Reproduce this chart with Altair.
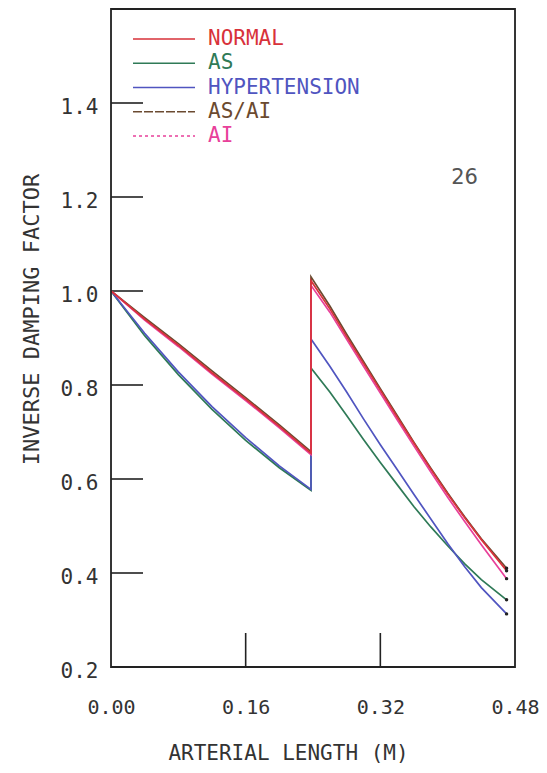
import altair as alt
import pandas as pd

# ---------------- data ----------------
SERIES = ["NORMAL", "AS", "HYPERTENSION", "AS/AI", "AI"]
COLORS = ["#d8323a", "#2f7a57", "#5055c0", "#6b4a30", "#e8409a"]
DASHES = [[1, 0], [1, 0], [1, 0], [9, 2], [3, 3]]
DRAW_ORDER = ["AS", "HYPERTENSION", "AS/AI", "AI", "NORMAL"]

# arterial length (m); the junction appears twice (value before / after the jump)
X_POS = [0.0, 0.04, 0.08, 0.12, 0.16, 0.20, 0.2376,
         0.2376, 0.26, 0.28, 0.30, 0.32, 0.34, 0.36, 0.38, 0.40, 0.42, 0.44, 0.47]

NORMAL = [1.0, 0.94, 0.885, 0.826, 0.77, 0.712, 0.655,
          1.022, 0.962, 0.903, 0.846, 0.789, 0.732, 0.676, 0.621, 0.568, 0.518, 0.471, 0.405]
AS = [1.0, 0.905, 0.822, 0.748, 0.682, 0.624, 0.576,
      0.836, 0.785, 0.735, 0.684, 0.635, 0.588, 0.541, 0.498, 0.458, 0.42, 0.386, 0.343]
HYPERTENSION = [1.0, 0.91, 0.828, 0.754, 0.688, 0.628, 0.578,
                0.898, 0.84, 0.785, 0.728, 0.673, 0.62, 0.567, 0.515, 0.463, 0.414, 0.369, 0.313]
AS_AI = [1.0, 0.943, 0.888, 0.83, 0.773, 0.715, 0.658,
         1.03, 0.968, 0.908, 0.85, 0.792, 0.735, 0.678, 0.623, 0.57, 0.52, 0.473, 0.41]
AI = [1.0, 0.938, 0.882, 0.823, 0.767, 0.709, 0.652,
      1.012, 0.955, 0.897, 0.84, 0.783, 0.726, 0.67, 0.615, 0.561, 0.51, 0.46, 0.388]

VALUES = {"NORMAL": NORMAL, "AS": AS, "HYPERTENSION": HYPERTENSION,
          "AS/AI": AS_AI, "AI": AI}

X_TICKS = [0.0, 0.16, 0.32, 0.48]
Y_TICKS = [0.2, 0.4, 0.6, 0.8, 1.0, 1.2, 1.4]
INNER_X_TICKS = [0.16, 0.32]
INNER_Y_TICKS = [0.4, 0.6, 0.8, 1.0, 1.2, 1.4]
X_DOMAIN = [0.0, 0.48]
Y_DOMAIN = [0.2, 1.6]
PANEL_LABEL = "26"
PANEL_LABEL_AT = (0.42, 1.24)

# ---------------- tables ----------------
rows = []
for s in DRAW_ORDER:
    for i, (x, y) in enumerate(zip(X_POS, VALUES[s])):
        rows.append({"series": s, "x": x, "y": y, "idx": i,
                     "end": i == len(X_POS) - 1})
df = pd.DataFrame(rows)
df_end = df[df["end"]]
df_xt = pd.DataFrame({"x": INNER_X_TICKS})
df_yt = pd.DataFrame({"y": INNER_Y_TICKS})
df_leg = pd.DataFrame({"series": SERIES, "row": list(range(len(SERIES)))})

MONO = "DejaVu Sans Mono"
TXT = "#333333"
INK = "#222222"
W, H = 404, 658

X_ENC = alt.X("x:Q", scale=alt.Scale(domain=X_DOMAIN, nice=False, zero=False),
              axis=alt.Axis(values=X_TICKS, format=".2f", title="ARTERIAL LENGTH (M)",
                            ticks=False, domain=False, grid=False,
                            labelFont=MONO, labelFontSize=20, labelColor=TXT,
                            labelPadding=30, labelFlush=False,
                            titleFont=MONO, titleFontSize=21, titleFontWeight="normal",
                            titleColor=TXT, titleX=177, titleY=75))
Y_ENC = alt.Y("y:Q", scale=alt.Scale(domain=Y_DOMAIN, nice=False, zero=False),
              axis=alt.Axis(values=Y_TICKS, format=".1f", title="INVERSE DAMPING FACTOR",
                            ticks=False, domain=False, grid=False,
                            labelFont=MONO, labelFontSize=21, labelColor=TXT,
                            labelPadding=13, labelOffset=4, labelFlush=False,
                            titleFont=MONO, titleFontSize=22, titleFontWeight="normal",
                            titleColor=TXT, titleX=-68, titleY=310))
COLOR_ENC = alt.Color("series:N", scale=alt.Scale(domain=SERIES, range=COLORS), legend=None)

frame = alt.Chart(pd.DataFrame({"f": [0]})).mark_rect(
    fill=None, fillOpacity=0, stroke=INK, strokeWidth=1.8).encode(
    x=alt.value(0), x2=alt.value(W), y=alt.value(0), y2=alt.value(H))

lines = alt.Chart(df).mark_line(strokeWidth=1.7, clip=True).encode(
    x=X_ENC, y=Y_ENC, color=COLOR_ENC, order="idx:Q")

ends = alt.Chart(df_end).mark_point(filled=True, size=12, color=INK, opacity=1).encode(
    x=X_ENC, y=Y_ENC)

ytick = alt.Chart(df_yt).mark_rule(color=INK, strokeWidth=1.6).encode(
    y=Y_ENC, x=alt.value(0), x2=alt.value(32))

xtick = alt.Chart(df_xt).mark_rule(color=INK, strokeWidth=1.6).encode(
    x=X_ENC, y=alt.value(H), y2=alt.value(H - 34))

label26 = alt.Chart(pd.DataFrame({"t": [PANEL_LABEL]})).mark_text(
    font="DejaVu Sans", fontSize=21, color="#555555").encode(
    x=alt.datum(PANEL_LABEL_AT[0]), y=alt.datum(PANEL_LABEL_AT[1]), text="t:N")

main = alt.layer(ytick, xtick, lines, ends, label26)

LEG_Y = alt.Y("row:Q", scale=alt.Scale(domain=[0, 4], range=[30, 127]), axis=None)
leg_rule = alt.Chart(df_leg).mark_rule(strokeWidth=1.6).encode(
    x=alt.value(22), x2=alt.value(84), y=LEG_Y, color=COLOR_ENC,
    strokeDash=alt.StrokeDash("series:N", scale=alt.Scale(domain=SERIES, range=DASHES),
                              legend=None))
leg_text = alt.Chart(df_leg).mark_text(align="left", baseline="middle", font=MONO,
                                       fontSize=21).encode(
    x=alt.value(97), y=LEG_Y, text="series:N", color=COLOR_ENC)

chart = alt.layer(main, leg_rule, leg_text, frame).resolve_scale(y="independent").properties(
    width=W, height=H,
    autosize=alt.AutoSizeParams(type="none"),
    padding={"left": 103, "top": 1, "right": 24, "bottom": 97},
).configure_view(stroke=None).configure(background="white")

chart.save("out.html", embed_options={"renderer": "svg", "actions": False})
